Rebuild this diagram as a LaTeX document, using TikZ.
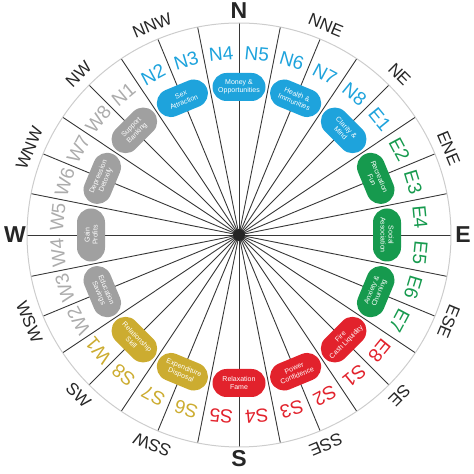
\documentclass[tikz,border=0pt]{standalone}
\usepackage{fontspec}
\setmainfont{Liberation Sans}
\definecolor{cblue}{RGB}{30,163,220}
\definecolor{cgreen}{RGB}{22,154,78}
\definecolor{cred}{RGB}{226,34,44}
\definecolor{cgold}{RGB}{204,172,48}
\definecolor{cgray}{RGB}{160,160,160}
\definecolor{lgray}{RGB}{172,172,172}
\definecolor{spokec}{RGB}{55,55,55}
\definecolor{ringc}{RGB}{205,205,205}
\tikzset{
  spoke/.style={draw=spokec, line width=0.9pt},
  ring/.style={draw=ringc, line width=1pt},
  zlab/.style={font=\fontsize{19}{19}\selectfont, inner sep=0pt},
  dlab/.style={font=\fontsize{17}{17}\selectfont, inner sep=0pt, text=black!85},
  clab/.style={font=\fontsize{23}{23}\selectfont\bfseries, inner sep=0pt, text=black!85},
  pill/.style={rectangle, rounded corners=14pt, minimum width=53pt, minimum height=28pt,
    inner sep=0pt, align=center, text=white, font=\fontsize{7}{8}\selectfont}
}
\begin{document}
\begin{tikzpicture}[x=1pt,y=1pt]
\useasboundingbox (0,0) rectangle (474,474);
\coordinate (C) at (239,239);
% spokes
\foreach \k in {0,...,31}{
  \pgfmathsetmacro{\ang}{90-\k*11.25}
  \path (C) ++(\ang:212) coordinate (e\k);
  \draw[spoke] (C) -- (e\k);
}
\draw[ring] (C) circle (212);
\fill[black!85] (C) circle (6);
% zone labels
\foreach \lab/\col [count=\i from 0] in {N1/lgray,N2/cblue,N3/cblue,N4/cblue,N5/cblue,N6/cblue,N7/cblue,N8/cblue,
  E1/cblue,E2/cgreen,E3/cgreen,E4/cgreen,E5/cgreen,E6/cgreen,E7/cgreen,E8/cred,
  S1/cred,S2/cred,S3/cred,S4/cred,S5/cred,S6/cgold,S7/cgold,S8/cgold,
  W1/cgold,W2/lgray,W3/lgray,W4/lgray,W5/lgray,W6/lgray,W7/lgray,W8/lgray}{
  \pgfmathsetmacro{\b}{-39.375+\i*11.25}
  \pgfmathsetmacro{\ang}{90-\b}
  \pgfmathsetmacro{\rot}{-\b}
  \path (C) ++(\ang:182) node[zlab, text=\col, rotate=\rot] (z\i) {\lab};
}
% direction labels
\foreach \lab/\b/\rot/\sty/\rr [count=\i] in {N/0/0/clab/224, NNE/22.5/-22.5/dlab/227, NE/45/-45/dlab/227, ENE/67.5/-67.5/dlab/227,
  E/90/0/clab/224, ESE/112.5/-112.5/dlab/227, SE/135/-135/dlab/227, SSE/157.5/-157.5/dlab/227,
  S/180/0/clab/224, SSW/202.5/157.5/dlab/227, SW/225/-45/dlab/227, WSW/247.5/-67.5/dlab/227,
  W/270/0/clab/224, WNW/292.5/67.5/dlab/227, NW/315/45/dlab/227, NNW/337.5/22.5/dlab/227}{
  \pgfmathsetmacro{\ang}{90-\b}
  \path (C) ++(\ang:\rr) node[\sty, rotate=\rot] (d\i) {\lab};
}
% pills
\foreach \txt/\b/\rot/\col [count=\i] in {
  {Money \&\\Opportunities}/0/0/cblue,
  {Health \&\\Immunities}/22.5/-22.5/cblue,
  {Clarity \&\\Mind}/45/-45/cblue,
  {Recreation\\Fun}/67.5/-67.5/cgreen,
  {Social\\Association}/90/-90/cgreen,
  {Anxiety \&\\Churning}/112.5/67.5/cgreen,
  {Fire\\Cash Liquidity}/135/45/cred,
  {Power\\Confidence}/157.5/22.5/cred,
  {Relaxation\\Fame}/180/0/cred,
  {Expenditure\\Disposal}/202.5/-22.5/cgold,
  {Relationship\\Skill}/225/-45/cgold,
  {Education\\Savings}/247.5/-67.5/cgray,
  {Gain\\Profits}/270/90/cgray,
  {Depression\\Detoxify}/292.5/67.5/cgray,
  {Support\\Banking}/315/45/cgray,
  {Sex\\Attraction}/337.5/22.5/cblue}{
  \pgfmathsetmacro{\ang}{90-\b}
  \path (C) ++(\ang:148) node[pill, fill=\col, rotate=\rot] (p\i) {\txt};
}
\end{tikzpicture}
\end{document}
